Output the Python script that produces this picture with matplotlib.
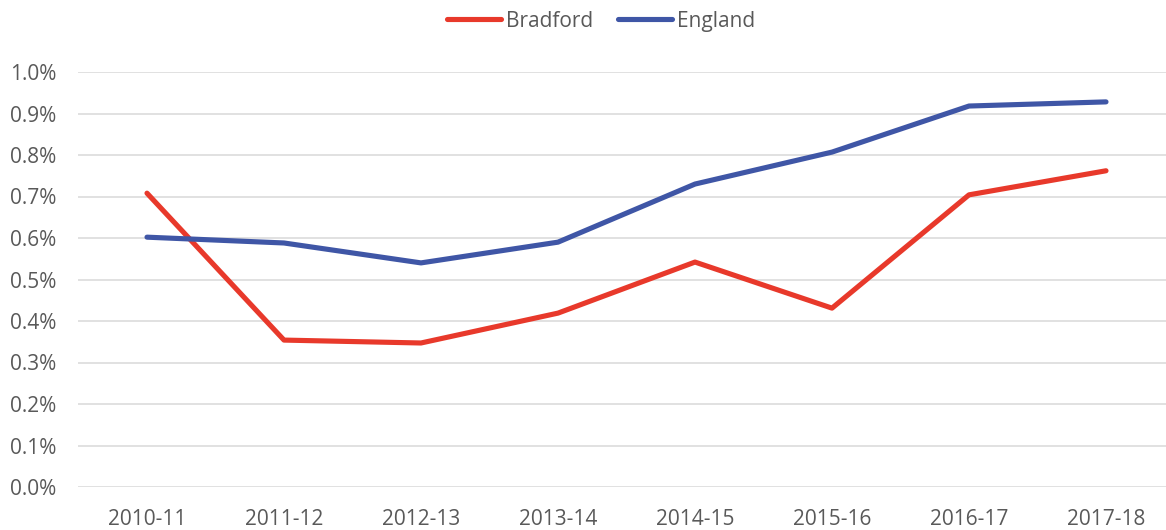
import matplotlib
matplotlib.use("Agg")
import matplotlib.pyplot as plt
from matplotlib.ticker import PercentFormatter

categories = ["2010-11", "2011-12", "2012-13", "2013-14", "2014-15", "2015-16", "2016-17", "2017-18"]
bradford = [0.708, 0.354, 0.347, 0.419, 0.542, 0.431, 0.704, 0.762]
england = [0.602, 0.588, 0.540, 0.590, 0.730, 0.807, 0.918, 0.928]
series_names = ["Bradford", "England"]

plt.rcParams['font.family'] = ['Open Sans', 'DejaVu Sans']

fig = plt.figure(figsize=(11.66, 5.30), dpi=100)
ax = fig.add_axes([78.5/1166, 1-487/530, 1096/1166, 415/530])

x = range(len(categories))
ax.plot(x, bradford, color="#E8392B", lw=3.7, solid_capstyle="round", solid_joinstyle="round", label=series_names[0])
ax.plot(x, england, color="#3F56A6", lw=3.7, solid_capstyle="round", solid_joinstyle="round", label=series_names[1])

ax.set_xlim(-0.5, len(categories) - 0.5)
ax.set_ylim(0, 1.0)
ax.set_yticks([i/10 for i in range(11)])
ax.yaxis.set_major_formatter(PercentFormatter(xmax=100, decimals=1))
ax.set_xticks(list(x))
ax.set_xticklabels(categories)
ax.grid(axis="y", color="#D9D9D9", lw=1.1)
ax.set_axisbelow(True)
for s in ax.spines.values():
    s.set_visible(False)
ax.tick_params(axis="both", length=0, labelsize=15, labelcolor="#595959")
ax.tick_params(axis="y", pad=16)
ax.tick_params(axis="x", pad=15.5)

fig.legend(ncol=2, loc="center", bbox_to_anchor=(601/1166, 1-21/530), frameon=False,
           fontsize=15, labelcolor="#595959", handlelength=2.6, handletextpad=0.25,
           columnspacing=1.2)

fig.savefig("out.png", dpi=100)
